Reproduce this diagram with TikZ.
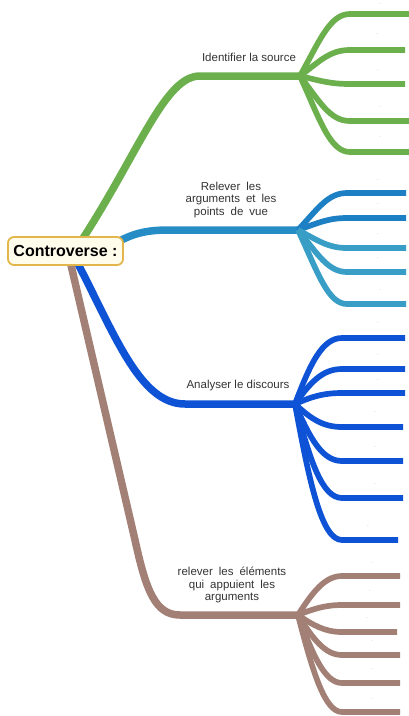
\documentclass[tikz,border=0pt]{standalone}
\usepackage{fontspec}
\setmainfont{Liberation Sans}
\usetikzlibrary{backgrounds}
\definecolor{cgreen}{RGB}{108,176,78}
\definecolor{cteal}{RGB}{38,140,198}
\definecolor{cteala}{RGB}{30,128,196}
\definecolor{ctealb}{RGB}{56,158,198}
\definecolor{cblue}{RGB}{14,82,214}
\definecolor{cbrown}{RGB}{163,128,118}
\definecolor{textc}{RGB}{51,51,51}
\definecolor{rootfill}{RGB}{255,252,235}
\definecolor{rootdraw}{RGB}{227,182,76}
\newcommand\wsp{\hspace{6pt}}
\begin{document}
\begin{tikzpicture}[x=1pt,y=-1pt,
  branch/.style={line width=7.5pt,line cap=round,line join=round},
  leaf/.style={line width=5.7pt},
  lbl/.style={font=\fontsize{11.5}{12.5}\selectfont,text=textc,align=center,inner sep=0pt},
  dot/.style={font=\fontsize{5}{5}\selectfont,text=gray,inner sep=0pt},
  rootbox/.style={draw=rootdraw,fill=rootfill,line width=1.8pt,rounded corners=6pt,
    minimum width=115pt,minimum height=28pt,inner sep=0pt,
    font=\fontsize{16}{18}\selectfont\bfseries}]
\useasboundingbox (0,0) rectangle (409,716);

\node[rootbox] (root) at (65.5,251) {Controverse :};

\coordinate (g) at (300,76);
\coordinate (t) at (298,230);
\coordinate (b) at (295,404);
\coordinate (r) at (298,615);

\begin{pgfonlayer}{background}
% main branches
\draw[branch,cgreen] ([xshift=17pt,yshift=-3pt]root.north) .. controls (140,150) and (165,76) .. (200,76) -- (g);
\draw[branch,cteal] ([xshift=-8pt,yshift=8pt]root.east) .. controls (135,232) and (150,230) .. (170,230) -- (t);
\draw[branch,cblue] ([xshift=12pt,yshift=3pt]root.south) .. controls (115,335) and (140,404) .. (185,404) -- (b);
\draw[branch,cbrown] ([xshift=5pt,yshift=3pt]root.south) -- (135,540) .. controls (146,590) and (155,615) .. (180,615) -- (r);

% green leaves
\foreach \y/\e in {14/409,50/405,84/405,121/409,152/409}{
  \coordinate (gl\y) at (\e,\y);
  \draw[leaf,cgreen] (g) .. controls (320,{76+0.58*(\y-76)}) and (330,\y) .. (350,\y) -- (gl\y);
}
% teal leaves
\foreach \y/\c in {193/cteala,218/cteala,248/ctealb,272/ctealb,304/ctealb}{
  \coordinate (tl\y) at (406,\y);
  \draw[leaf,\c] (t) .. controls (318,{230+0.58*(\y-230)}) and (328,\y) .. (347,\y) -- (tl\y);
}
% blue leaves
\foreach \y/\e in {338/405,369/405,393/405,427/403,461/403,498/403,540/398}{
  \coordinate (bl\y) at (\e,\y);
  \draw[leaf,cblue] (b) .. controls (310,{404+0.6*(\y-404)}) and (322,\y) .. (342,\y) -- (bl\y);
}
% brown leaves
\foreach \y/\e in {576/400,605/400,632/397,655/400,683/400,712/400}{
  \coordinate (rl\y) at (\e,\y);
  \draw[leaf,cbrown] (r) .. controls (313,{615+0.6*(\y-615)}) and (325,\y) .. (342,\y) -- (rl\y);
}
\end{pgfonlayer}

% branch labels
\node[lbl] (lg) at (249,57) {Identifier la source};
\node[lbl] (lt) at (231,200) {Relever\wsp les\\arguments\wsp et\wsp les\\points\wsp de\wsp vue};
\node[lbl] (lb) at (238,386) {Analyser le discours};
\node[lbl] (lr) at (232,585) {relever\wsp les\wsp éléments\\qui\wsp appuient\wsp les\\arguments};

% leaf labels (tiny dots)
\foreach \x/\y [count=\i] in {380/4,377/34,378/70,380/107,380/137,
  378/180,378/204,378/234,378/258,380/290,
  378/323,378/355,378/380,375/412,375/447,375/484,368/526,
  372/563,370/591,367/618,372/641,372/669,372/699}{
  \node[dot] (d\i) at (\x,\y) {.};
}
\end{tikzpicture}
\end{document}
